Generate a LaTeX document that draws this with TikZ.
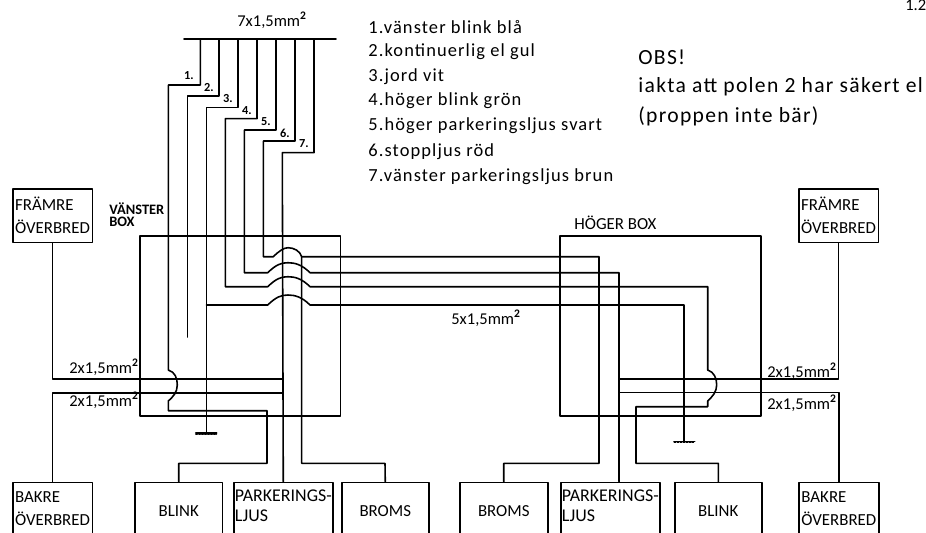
\documentclass[tikz,border=0pt]{standalone}
\usepackage{fontspec}
\setmainfont{Carlito}
\newfontfamily\wirefont[LetterSpace=6]{Carlito}
\newcommand{\wirehop}[1]{(267.7,#1) .. controls (276,#1-8) and (281,#1-10) .. (288,#1-10) .. controls (295,#1-10) and (302,#1-8) .. (310,#1)}
\newcommand{\sqmm}{mm\textsuperscript{\bfseries 2}}
\tikzset{
  wire/.style={line width=0.9pt},
  unitbox/.style={draw,line width=0.9pt,anchor=north west,inner sep=0pt,font=\fontsize{9.6}{13}\selectfont,align=center},
  sidebox/.style={unitbox,minimum width=1.594cm,minimum height=1.074cm,text width=1.5cm,align=left},
  lowbox/.style={unitbox,minimum height=1.14cm},
  parkbox/.style={lowbox,minimum width=1.98cm,align=left,font=\fontsize{10.2}{13}\selectfont},
  listtext/.style={anchor=west,inner sep=0pt,font=\fontsize{10.5}{12}\wirefont},
  obstext/.style={anchor=west,inner sep=0pt,font=\fontsize{12.3}{14}\wirefont},
  sizetext/.style={anchor=west,inner sep=0pt,font=\fontsize{9.4}{12}\selectfont}
}
\begin{document}
\begin{tikzpicture}[line cap=round,line join=round,x=0.02cm,y=-0.02cm]
		\clip (0,0) rectangle (926,532);
		% texts at the top
		\node[sizetext] (busSize) at (237,20) {7x1,5\sqmm};
		\node[listtext] (item1) at (368,27) {1.vänster blink blå};
		\node[listtext] (item2) at (368,52) {2.kontinuerlig el gul};
		\node[listtext] (item3) at (368,77) {3.jord vit};
		\node[listtext] (item4) at (368,101) {4.höger blink grön};
		\node[listtext] (item5) at (368,126) {5.höger parkeringsljus svart};
		\node[listtext] (item6) at (368,152) {6.stoppljus röd};
		\node[listtext] (item7) at (368,177) {7.vänster parkeringsljus brun};
		\node[obstext] (obs) at (638,57) {OBS!};
		\node[obstext] (obsLineA) at (638,87) {iakta att polen 2 har säkert el};
		\node[obstext] (obsLineB) at (638,116) {(proppen inte bär)};
		\node[sizetext] (sheet) at (905,5) {1.2};
		% wire numbers
		\begin{scope}[every node/.style={inner sep=0pt,font=\fontsize{7}{8}\selectfont\bfseries}]
			\node (no1) at (189,76) {1.};
			\node (no2) at (209,88) {2.};
			\node (no3) at (228,99) {3.};
			\node (no4) at (247,111) {4.};
			\node (no5) at (266,122) {5.};
			\node (no6) at (285,133) {6.};
			\node (no7) at (304,144) {7.};
		\end{scope}
		% boxes
		\draw [wire] (140,235.7) rectangle (340.7,416);
		\draw [wire] (560,235.7) rectangle (760.7,416);
		\node[anchor=west,inner sep=0pt,align=left,font=\fontsize{8.2}{7}\selectfont\bfseries] (leftName) at (109,215) {VÄNSTER\\BOX};
		\node[anchor=west,inner sep=0pt,font=\fontsize{9.6}{12}\selectfont] (rightName) at (574,223) {HÖGER BOX};
		\node[sizetext] (linkSize) at (451,318) {5x1,5\sqmm};
		\node[sidebox] (frontL) at (12,188) {FRÄMRE\\ÖVERBRED};
		\node[sidebox] (frontR) at (798,188) {FRÄMRE\\ÖVERBRED};
		\node[sidebox,minimum height=1.14cm] (rearL) at (12,481.7) {BAKRE\\ÖVERBRED\\[-10pt]\mbox{}};
		\node[sidebox,minimum height=1.14cm] (rearR) at (798.3,481.7) {BAKRE\\ÖVERBRED\\[-10pt]\mbox{}};
		\node[lowbox,minimum width=1.748cm] (blinkL) at (134.3,481.7) {BLINK};
		\node[parkbox] (parkL) at (233,481.7) {PARKERINGS-\\[-2pt]LJUS\\[-7pt]\mbox{}};
		\node[lowbox,minimum width=1.74cm] (bromsL) at (341,481.7) {BROMS};
		\node[lowbox,minimum width=1.76cm] (bromsR) at (459,481.7) {BROMS};
		\node[parkbox] (parkR) at (560,481.7) {PARKERINGS-\\[-2pt]LJUS\\[-7pt]\mbox{}};
		\node[lowbox,minimum width=1.74cm] (blinkR) at (674,481.7) {BLINK};
		\node[sizetext] (sizeLA) at (69,367) {2x1,5\sqmm};
		\node[sizetext] (sizeLB) at (69,400) {2x1,5\sqmm};
		\node[sizetext] (sizeRA) at (767,371) {2x1,5\sqmm};
		\node[sizetext] (sizeRB) at (767,403) {2x1,5\sqmm};
		% cable from the top
		\draw [wire] (184,39) -- (336,39);
		\draw [wire] (200.3,39) |- (168.3,85) -- (168.3,370) .. controls (175,372) and (177.3,378) .. (177.3,385) .. controls (177.3,392) and (173,397) .. (168.3,401) |- (267,410.7) -- (267,463.3) -| (blinkL.north);
		\draw [wire] (219,39) |- (187.3,96) -- (187.3,337);
		\draw [wire] (238,39) |- (206.3,107.7) -- (206.3,433);
		\draw [wire] (206.3,305) -- \wirehop{305} -- (684,305) -- (684,441.3);
		\draw [wire] (257,39) |- (225.3,118.7) |- (267.7,286.7) -- \wirehop{286.7} -| (707.7,370) .. controls (714,372) and (716.7,378) .. (716.7,385) .. controls (716.7,392) and (712,397) .. (707.7,401) |- (636,406.7) -- (636,463.3) -| (blinkR.north);
		\draw [wire] (276,39) |- (244.3,130) |- (267.7,272.7) -- \wirehop{272.7} -| (619,481.7);
		\draw [wire] (295,39) |- (263.3,141) |- (273.3,256.7) .. controls (279,251) and (284,247.7) .. (288,247.7) .. controls (294,247.7) and (300,251) .. (301.7,256.7) -| (599,463.3) -| (bromsR.north);
		\draw [wire] (301.7,256.7) |- (385,463.3) -- (bromsL.north);
		\draw [wire] (314,39) |- (282.3,152.7) -- (parkL.north);
		% side wires
		\draw [wire] (frontL.south) |- (282.3,379);
		\draw [wire] (rearL.north) |- (282.3,392.7);
		\draw [wire] (frontR.south) |- (619,379);
		\draw [wire] (rearR.north) |- (619,392.3);
		% ground
		\draw [wire] (195.7,433) -- (216.7,433);
		\draw [line width=0.5pt,dash pattern=on 1pt off 0.7pt] (195.7,434.5) -- (216.7,434.5);
		\draw [wire] (674,441.3) -- (694.7,441.3);
		\draw [line width=0.5pt,dash pattern=on 1pt off 0.7pt] (674,442.8) -- (694.7,442.8);
\end{tikzpicture}
\end{document}
